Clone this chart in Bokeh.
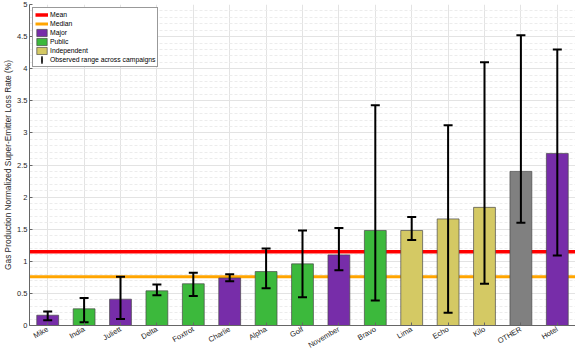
import numpy as np
from bokeh.plotting import figure
from bokeh.models import Legend, LegendItem, FixedTicker, ColumnDataSource
from bokeh.embed import file_html
from bokeh.resources import INLINE

names = ["Mike", "India", "Juliett", "Delta", "Foxtrot", "Charlie", "Alpha", "Golf",
         "November", "Bravo", "Lima", "Echo", "Kilo", "OTHER", "Hotel"]
groups = ["Major", "Public", "Major", "Public", "Public", "Major", "Public", "Public",
          "Major", "Public", "Independent", "Independent", "Independent", "Other", "Major"]
values = [0.16, 0.26, 0.41, 0.54, 0.65, 0.74, 0.84, 0.96, 1.10, 1.48, 1.48, 1.66, 1.84, 2.40, 2.68]
range_lo = [0.08, 0.05, 0.10, 0.47, 0.46, 0.69, 0.58, 0.44, 0.86, 0.39, 1.33, 0.20, 0.65, 1.60, 1.09]
range_hi = [0.22, 0.43, 0.76, 0.64, 0.82, 0.80, 1.20, 1.48, 1.52, 3.43, 1.69, 3.12, 4.10, 4.52, 4.30]
mean_val = 1.15
median_val = 0.76
y_ticks = [0, 0.5, 1, 1.5, 2, 2.5, 3, 3.5, 4, 4.5, 5]
y_tick_labels = ["0", "0.5", "1", "1.5", "2", "2.5", "3", "3.5", "4", "4.5", "5"]

group_colors = {"Major": "#772DA9", "Public": "#3CB93C", "Independent": "#D4C964", "Other": "#808080"}

FONT = "Liberation Sans"
pos = list(range(1, len(names) + 1))

p = figure(width=575, height=356, output_backend="svg", toolbar_location=None,
           x_range=(0.5, len(names) + 0.5), y_range=(0, 5))
p.min_border_top = 4
p.min_border_right = 0
p.min_border_left = 0
p.min_border_bottom = 0
p.outline_line_color = None

# mean / median lines (behind bars)
r_mean = p.line(x=[0.5, len(names) + 0.5], y=[mean_val, mean_val], line_color="#FF0000", line_width=3.5)
r_median = p.line(x=[0.5, len(names) + 0.5], y=[median_val, median_val], line_color="#FFA500", line_width=3)

bar_renderers = {}
for g in ["Major", "Public", "Independent", "Other"]:
    idx = [i for i, gg in enumerate(groups) if gg == g]
    src = ColumnDataSource(dict(x=[pos[i] for i in idx], top=[values[i] for i in idx]))
    bar_renderers[g] = p.vbar(x="x", top="top", width=0.6, bottom=0, source=src,
                              fill_color=group_colors[g], line_color="#4a4a4a",
                              line_alpha=0.7, line_width=1)

err_src = ColumnDataSource(dict(x=pos, lo=range_lo, hi=range_hi))
p.segment(x0="x", y0="lo", x1="x", y1="hi", source=err_src, line_color="black", line_width=2)
p.scatter(x="x", y="lo", source=err_src, marker="dash", size=9, line_color="black", line_width=2)
p.scatter(x="x", y="hi", source=err_src, marker="dash", size=9, line_color="black", line_width=2)
# legend-only symbol for the observed range (thin vertical bar)
r_err_leg = p.ellipse(x=[np.nan], y=[np.nan], width=0.6, height=10, width_units="screen",
                      height_units="screen", fill_color="black", line_color="black", line_width=1)

# axes
p.xaxis.ticker = FixedTicker(ticks=pos)
p.xaxis.major_label_overrides = {i: n for i, n in zip(pos, names)}
p.xaxis.major_label_orientation = np.pi / 6
p.yaxis.ticker = FixedTicker(ticks=y_ticks, minor_ticks=[round(0.1 * k, 1) for k in range(51)])
p.yaxis.major_label_overrides = {t: l for t, l in zip(y_ticks, y_tick_labels)}
p.yaxis.axis_label = "Gas Production Normalized Super-Emitter Loss Rate (%)"
for ax in (p.xaxis[0], p.yaxis[0]):
    ax.major_label_text_font = FONT
    ax.major_label_text_font_size = "7.5px"
    ax.major_label_text_line_height = 1.0
    ax.major_label_text_color = "#262626"
    ax.axis_line_color = "#666666"
    ax.major_tick_in = 3
    ax.major_tick_out = 0
    ax.minor_tick_in = 0
    ax.minor_tick_out = 0
    ax.major_tick_line_color = "#666666"
p.xaxis.major_label_standoff = 3
p.yaxis.major_label_standoff = 2
p.yaxis.axis_label_text_font = FONT
p.yaxis.axis_label_text_font_size = "8.3px"
p.yaxis.axis_label_text_font_style = "normal"
p.yaxis.axis_label_text_color = "#262626"
p.yaxis.axis_label_standoff = 1

p.xgrid.grid_line_color = "#e3e3e3"
p.ygrid.grid_line_color = "#e3e3e3"
p.ygrid.minor_grid_line_color = "#ececec"
p.ygrid.minor_grid_line_dash = "3 2"

legend = Legend(items=[
    LegendItem(label="Mean", renderers=[r_mean]),
    LegendItem(label="Median", renderers=[r_median]),
    LegendItem(label="Major", renderers=[bar_renderers["Major"]]),
    LegendItem(label="Public", renderers=[bar_renderers["Public"]]),
    LegendItem(label="Independent", renderers=[bar_renderers["Independent"]]),
    LegendItem(label="Observed range across campaigns", renderers=[r_err_leg]),
], location="top_left")
legend.label_text_font = FONT
legend.label_text_font_size = "6.8px"
legend.label_text_color = "black"
legend.label_height = 9
legend.glyph_height = 9
legend.glyph_width = 13
legend.label_standoff = 2
legend.spacing = 0
legend.padding = 2
legend.margin = 3
legend.border_line_color = "#333333"
legend.border_line_width = 1
legend.background_fill_alpha = 1
p.add_layout(legend)

open("out.html", "w").write(file_html(p, INLINE))
